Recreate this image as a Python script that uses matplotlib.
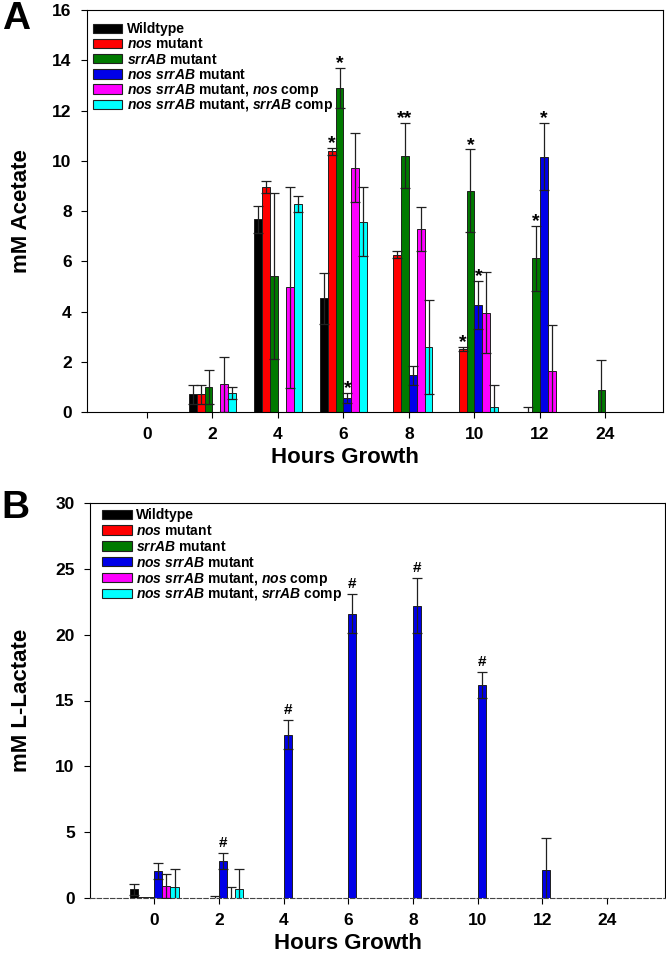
import matplotlib
matplotlib.use("Agg")
import matplotlib.pyplot as plt
import numpy as np
from matplotlib.patches import Rectangle

plt.rcParams['font.family'] = ['Liberation Sans', 'DejaVu Sans']
plt.rcParams['font.weight'] = 'bold'
plt.rcParams['mathtext.fontset'] = 'custom'
plt.rcParams['mathtext.it'] = 'Liberation Sans:italic:bold'
plt.rcParams['mathtext.rm'] = 'Liberation Sans:bold'
plt.rcParams['mathtext.bf'] = 'Liberation Sans:bold'

hours = ['0', '2', '4', '6', '8', '10', '12', '24']
strains = ['Wildtype', r'$\mathit{nos}$ mutant', r'$\mathit{srrAB}$ mutant',
           r'$\mathit{nos\ srrAB}$ mutant',
           r'$\mathit{nos\ srrAB}$ mutant, $\mathit{nos}$ comp',
           r'$\mathit{nos\ srrAB}$ mutant, $\mathit{srrAB}$ comp']
colors = ['#000000', '#ff0000', '#007a00', '#0000e8', '#ff00ff', '#00ffff']

# Panel A: acetate (mM), rows = strains, columns = hours
acetate = [
    [0.0, 0.70, 7.67, 4.53, 0.0, 0.0, 0.0, 0.0],
    [0.0, 0.70, 8.95, 10.37, 6.25, 2.50, 0.0, 0.0],
    [0.0, 1.00, 5.40, 12.90, 10.20, 8.80, 6.12, 0.88],
    [0.0, 0.0, 0.0, 0.55, 1.47, 4.27, 10.16, 0.0],
    [0.0, 1.10, 4.97, 9.73, 7.29, 3.96, 1.63, 0.0],
    [0.0, 0.75, 8.27, 7.58, 2.58, 0.21, 0.0, 0.0],
]
acetate_err = [
    [0.0, 0.37, 0.53, 1.02, 0.0, 0.0, 0.0, 0.0],
    [0.0, 0.37, 0.25, 0.13, 0.14, 0.08, 0.20, 0.0],
    [0.0, 0.67, 3.30, 0.80, 1.30, 1.65, 1.30, 1.19],
    [0.0, 0.0, 0.0, 0.20, 0.38, 0.96, 1.34, 0.0],
    [0.0, 1.10, 4.00, 1.37, 0.88, 1.63, 1.84, 0.0],
    [0.0, 0.25, 0.31, 1.37, 1.88, 0.88, 0.0, 0.0],
]
acetate_marks = [(3, 1, '*'), (3, 2, '*'), (3, 3, '*'), (4, 2, '**'),
                 (5, 1, '*'), (5, 2, '*'), (5, 3, '*'), (6, 2, '*'), (6, 3, '*')]

# Panel B: L-lactate (mM)
lactate = [
    [0.66, 0.0, 0.0, 0.0, 0.0, 0.0, 0.0, 0.0],
    [0.10, 0.0, 0.0, 0.0, 0.0, 0.0, 0.0, 0.0],
    [0.10, 0.0, 0.0, 0.0, 0.0, 0.0, 0.0, 0.0],
    [2.05, 2.81, 12.40, 21.60, 22.20, 16.20, 2.13, 0.0],
    [0.91, 0.0, 0.0, 0.0, 0.0, 0.0, 0.0, 0.0],
    [0.81, 0.66, 0.0, 0.0, 0.0, 0.0, 0.0, 0.0],
]
lactate_err = [
    [0.40, 0.0, 0.0, 0.0, 0.0, 0.0, 0.0, 0.0],
    [0.0, 0.0, 0.0, 0.0, 0.0, 0.0, 0.0, 0.0],
    [0.0, 0.17, 0.0, 0.0, 0.0, 0.0, 0.0, 0.0],
    [0.59, 0.59, 1.10, 1.50, 2.10, 1.00, 2.41, 0.0],
    [0.94, 0.84, 0.0, 0.0, 0.0, 0.0, 0.0, 0.0],
    [1.42, 1.57, 0.0, 0.0, 0.0, 0.0, 0.0, 0.0],
]
lactate_marks = [(1, 3, '#'), (2, 3, '#'), (3, 3, '#'), (4, 3, '#'), (5, 3, '#')]

W, H = 666, 956
fig = plt.figure(figsize=(W / 100, H / 100), dpi=100)


def legend_box(x0, y0, dy, pw=29.6, ph=9.3, gap=4.5):
    # manual legend in pixel coordinates (y measured from top)
    for i, lab in enumerate(strains):
        yc = y0 + i * dy
        fig.add_artist(Rectangle((x0 / W, 1 - (yc + ph / 2) / H), pw / W, ph / H,
                                 facecolor=colors[i], edgecolor='#202020',
                                 linewidth=0.8, transform=fig.transFigure))
        fig.text((x0 + pw + gap) / W, 1 - (yc + 5.0) / H, lab, fontsize=10,
                 fontweight='bold', ha='left', va='baseline')


def panel(rect, vals, errs, marks, ylim, yticks, ylabel, xlim, bw,
          xlabel_x, ylabel_x, dashed_base, mark_size, mark_off):
    ax = fig.add_axes(rect)
    x = np.arange(len(hours))
    for i, (v, e) in enumerate(zip(vals, errs)):
        pos = x + (i - 2.5) * bw
        ax.bar(pos, v, width=bw, color=colors[i], edgecolor='#202020',
               linewidth=0.7, zorder=2)
        v = np.array(v); e = np.array(e)
        m = e > 0
        ax.errorbar(pos[m], v[m], yerr=e[m], fmt='none', ecolor='#202020',
                    elinewidth=0.9, capsize=3.5, capthick=0.9, zorder=3)
    for (t, s, sym) in marks:
        top = vals[s][t] + errs[s][t]
        ax.annotate(sym, (x[t] + (s - 2.5) * bw, top), xytext=(0, mark_off),
                    textcoords='offset points', ha='center', va='bottom',
                    fontsize=mark_size, fontweight='bold')
    ax.set_xlim(*xlim)
    ax.set_ylim(*ylim)
    ax.set_yticks(yticks)
    ax.set_xticks(x)
    ax.set_xticklabels(hours)
    ax.tick_params(axis='both', direction='out', length=4, width=0.8,
                   labelsize=12.5, pad=7)
    for lab in ax.get_xticklabels() + ax.get_yticklabels():
        lab.set_fontweight('bold')
    for sp in ax.spines.values():
        sp.set_linewidth(0.8)
    if dashed_base:
        ax.spines['bottom'].set_linestyle((0, (4, 2)))
        ax.spines['bottom'].set_color('#444444')
    ax.set_xlabel('Hours Growth', fontsize=16, fontweight='bold')
    ax.xaxis.set_label_coords(xlabel_x, -0.088)
    ax.set_ylabel(ylabel, fontsize=16, fontweight='bold')
    ax.yaxis.set_label_coords(ylabel_x, 0.5)
    return ax


axA = panel([87 / W, 1 - 412 / H, 576 / W, 402 / H], acetate, acetate_err,
            acetate_marks, (0, 16), range(0, 17, 2), 'mM Acetate',
            (-0.916, 7.88), 0.12, 0.448, -0.096, False, 14, -3)
axB = panel([90 / W, 1 - 898 / H, 575 / W, 395 / H], lactate, lactate_err,
            lactate_marks, (0, 30), range(0, 31, 5), 'mM L-Lactate',
            (-0.995, 7.9), 0.125, 0.449, -0.101, True, 11, 2)

legend_box(92.7, 28.3, 15.2)
legend_box(102.3, 514.3, 15.8)

fig.text(16 / W, 1 - 19 / H, 'A', fontsize=28, fontweight='heavy',
         ha='center', va='center')
fig.text(15 / W, 1 - 508 / H, 'B', fontsize=28, fontweight='heavy',
         ha='center', va='center')

fig.savefig('out.png', dpi=100)
